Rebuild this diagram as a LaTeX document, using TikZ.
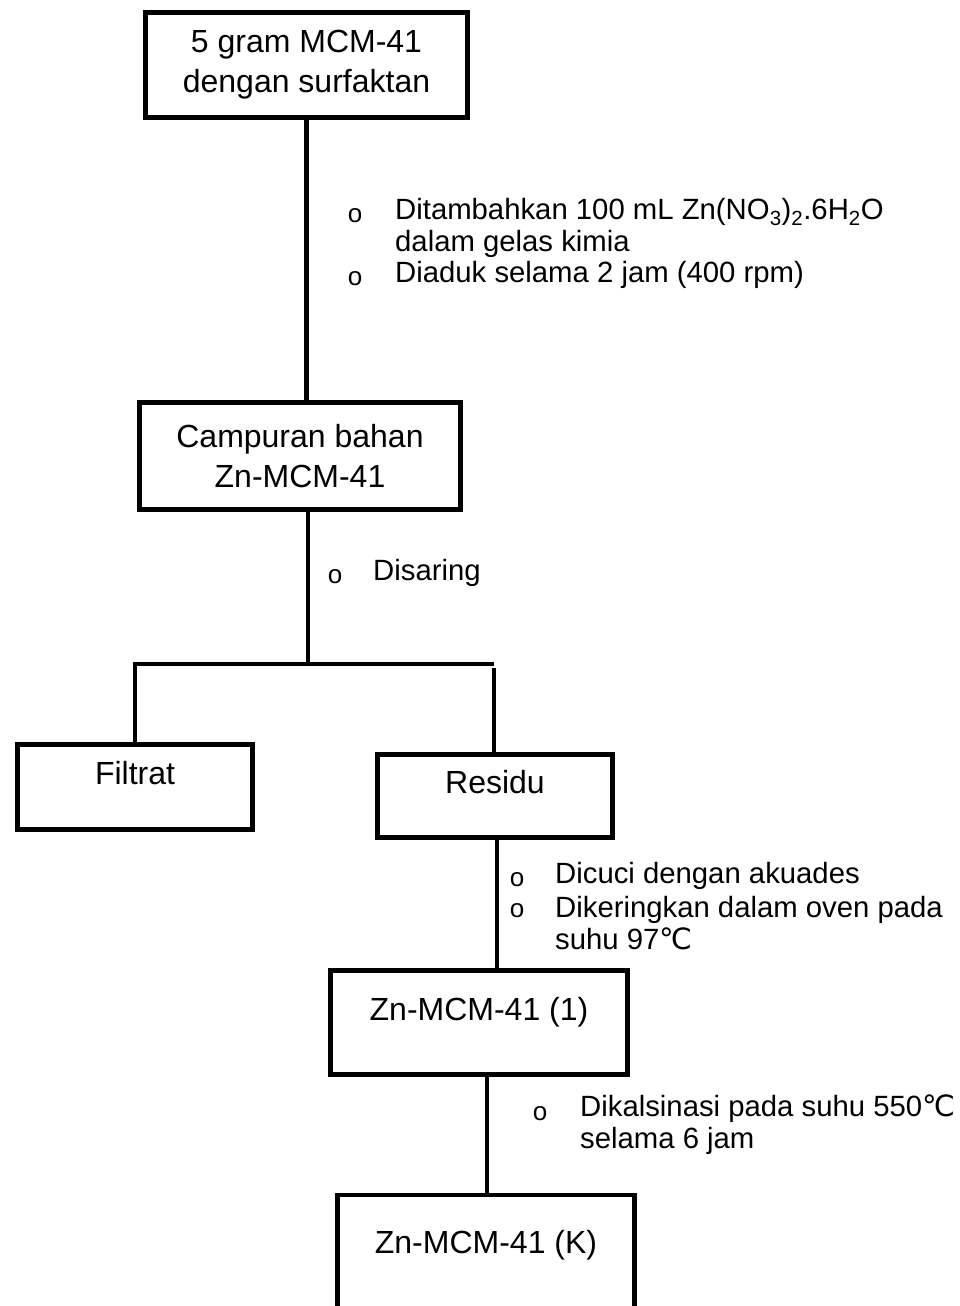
\documentclass[tikz,border=0pt]{standalone}
\usepackage{fontspec}
\setmainfont{Liberation Sans}
\newfontfamily\dejavu{DejaVu Sans}
\begin{document}
\begin{tikzpicture}[x=1pt,y=-1pt,
  box/.style={draw, line width=4.5pt, inner sep=0pt, align=center,
    font=\fontsize{32}{40}\selectfont},
  boxlabel/.style={inner sep=0pt, font=\fontsize{32}{40}\selectfont},
  conn/.style={line width=4.5pt},
  note/.style={anchor=west, inner sep=0pt, align=left,
    font=\fontsize{29.3}{32}\selectfont},
  bul/.style={inner sep=0pt, font=\fontsize{26}{28}\selectfont}]
\clip (0,0) rectangle (959,1306);
\fill[white] (0,0) rectangle (959,1306);

% boxes
\node[box, minimum width=322pt, minimum height=105pt] (b1) at (306.5,65) {5 gram MCM-41\\dengan surfaktan};
\node[box, minimum width=321pt, minimum height=107pt] (b2) at (300,456) {Campuran bahan\\Zn-MCM-41};
\node[box, minimum width=235pt, minimum height=85pt,
  label={[boxlabel, yshift=14pt]center:Filtrat}] (filtrat) at (135,787) {};
\node[box, minimum width=235pt, minimum height=83pt,
  label={[boxlabel, yshift=14pt]center:Residu}] (residu) at (495,796) {};
\node[box, minimum width=297pt, minimum height=104pt,
  label={[boxlabel, yshift=10pt]center:Zn-MCM-41 (1)}] (zn1) at (479,1022.5) {};
\node[box, minimum width=297pt, minimum height=125pt,
  label={[boxlabel, yshift=12pt]center:Zn-MCM-41 (K)}] (znk) at (486,1257.5) {};

% connectors
\coordinate (split) at (308,664);
\coordinate (lc) at (135,664);
\coordinate (rc) at (494,664);
\draw[conn] (b1.south) -- (b1.south |- b2.north);
\draw[conn] (b2.south -| split) -- (split);
\draw[conn] (filtrat.north) -- (lc) -- (rc);
\draw[conn, shorten <=4pt] (rc) -- (rc |- residu.north);
\draw[conn] ([xshift=2pt]residu.south) -- ([xshift=2pt]residu.south |- zn1.north);
\draw[conn] ([xshift=8pt]zn1.south) -- ([xshift=8pt]zn1.south |- znk.north);

% notes
\node[bul] (o1) at (355,216) {o};
\node[note] (n1) at (395,228) {Ditambahkan 100 mL Zn(NO\textsubscript{3})\textsubscript{2}.6H\textsubscript{2}O\\dalam gelas kimia};
\node[bul] (o2) at (355,279) {o};
\node[note] (n2) at (395,275) {Diaduk selama 2 jam (400 rpm)};

\node[bul] (o3) at (335,577) {o};
\node[note] (n3) at (373,573) {Disaring};

\node[bul] (o4) at (517,880) {o};
\node[note] (n4) at (555,876) {Dicuci dengan akuades};
\node[bul] (o5) at (517,911) {o};
\node[note] (n5) at (555,923.5) {Dikeringkan dalam oven pada\\suhu 97{\dejavu ℃}};

\node[bul] (o6) at (540,1114) {o};
\node[note] (n6) at (580,1125) {Dikalsinasi pada suhu 550{\dejavu ℃}\\selama 6 jam};
\end{tikzpicture}
\end{document}
